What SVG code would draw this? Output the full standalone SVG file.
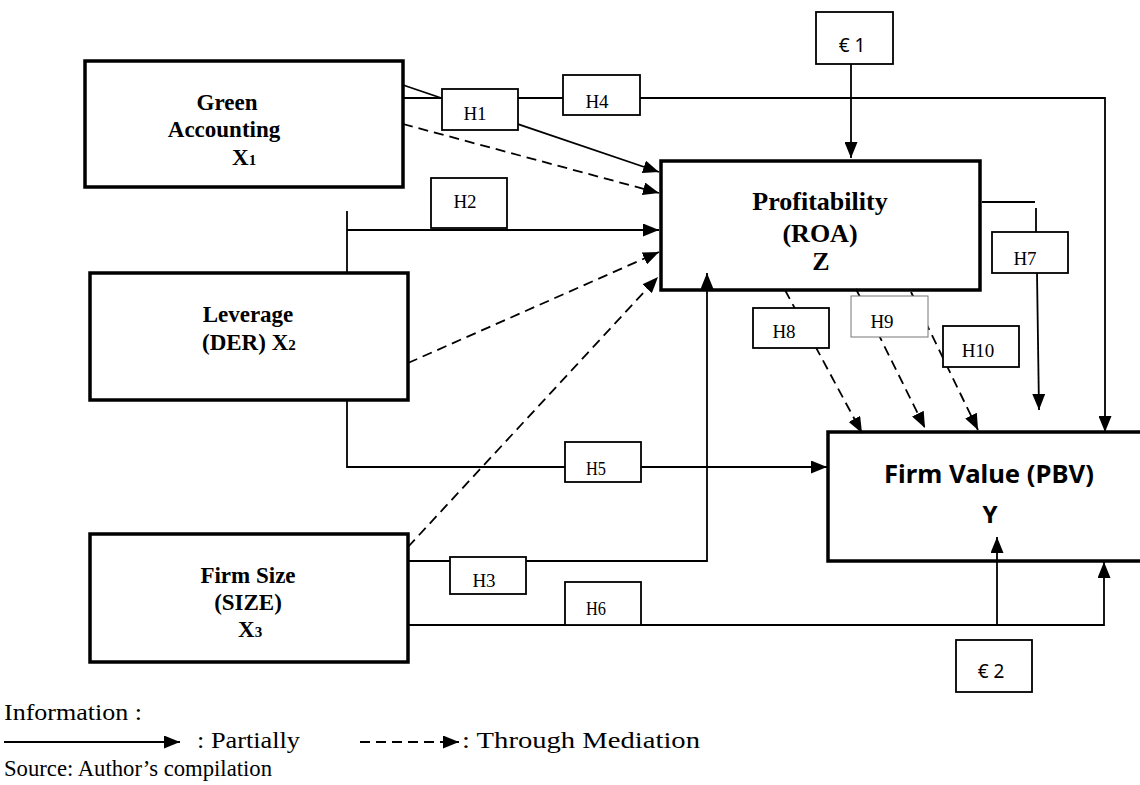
<svg xmlns="http://www.w3.org/2000/svg" width="1140" height="785" viewBox="0 0 1140 785">
<defs>
<marker id="ah" markerUnits="userSpaceOnUse" markerWidth="16" markerHeight="13" refX="16" refY="6.5" orient="auto">
<path d="M0,0 L16,6.5 L0,13 z" fill="#000"/>
</marker>
<style>
.main{fill:#fff;stroke:#000;stroke-width:3.5}
.hb{fill:#fff;stroke:#000;stroke-width:1.8}
.ln{fill:none;stroke:#000;stroke-width:1.8}
.ds{fill:none;stroke:#000;stroke-width:1.8;stroke-dasharray:10 6}
.bt{font-family:"Liberation Serif","Times New Roman",serif;font-weight:bold;font-size:23px;text-anchor:middle}
.ht{font-family:"Liberation Serif","Times New Roman",serif;font-size:19px;text-anchor:middle}
.et{font-family:"Noto Sans","Open Sans",sans-serif;font-size:19px;text-anchor:middle}
.lg{font-family:"Liberation Serif","Times New Roman",serif;font-size:23px}
</style>
</defs>
<rect width="1140" height="785" fill="#fff"/>

<g id="green-accounting">
<rect class="main" x="85" y="61" width="318" height="126"/>
<text class="bt" x="227" y="110">Green</text>
<text class="bt" x="224" y="137">Accounting</text>
<text class="bt" x="232" y="165" style="text-anchor:start">X<tspan font-size="15">1</tspan></text>
</g>

<g id="leverage">
<rect class="main" x="90" y="273" width="318" height="127"/>
<text class="bt" x="248" y="322">Leverage</text>
<text class="bt" x="202" y="350" style="text-anchor:start">(DER) X<tspan font-size="15">2</tspan></text>
</g>

<g id="firm-size">
<rect class="main" x="90" y="534" width="318" height="128"/>
<text class="bt" x="248" y="583">Firm Size</text>
<text class="bt" x="248" y="610">(SIZE)</text>
<text class="bt" x="238" y="637" style="text-anchor:start">X<tspan font-size="15">3</tspan></text>
</g>

<g id="profitability">
<rect class="main" x="661" y="161" width="319" height="129"/>
<text class="bt" x="820" y="210" style="font-size:26px">Profitability</text>
<text class="bt" x="820" y="242" style="font-size:26px">(ROA)</text>
<text class="bt" x="821" y="270" style="font-size:26px">Z</text>
</g>

<g id="firm-value">
<rect class="main" x="828" y="432" width="330" height="129"/>
<text x="989" y="483" font-family="'Noto Sans','Open Sans',sans-serif" font-weight="bold" font-size="25" text-anchor="middle" textLength="210" lengthAdjust="spacingAndGlyphs">Firm Value (PBV)</text>
<text x="990" y="523" font-family="'Noto Sans','Open Sans',sans-serif" font-weight="bold" font-size="24" text-anchor="middle">Y</text>
</g>

<g id="connectors">
<path class="ln" d="M403,85 L659,172" marker-end="url(#ah)"/>
<path class="ds" d="M403,124 L659,193" marker-end="url(#ah)"/>
<path class="ln" d="M403,98 L1105,98 L1105,432" marker-end="url(#ah)"/>
<path class="ln" d="M347,211 L347,273"/>
<path class="ln" d="M347,230 L659,230" marker-end="url(#ah)"/>
<path class="ds" d="M408,363 L659,252" marker-end="url(#ah)"/>
<path class="ln" d="M347,401 L347,467 L827,467" marker-end="url(#ah)"/>
<path class="ds" d="M408,547 L658,277" marker-end="url(#ah)"/>
<path class="ln" d="M408,561 L707,561 L707,273" marker-end="url(#ah)"/>
<path class="ln" d="M408,625 L1104,625 L1104,562" marker-end="url(#ah)"/>
<path class="ln" d="M997,625 L997,537" marker-end="url(#ah)"/>
<path class="ln" d="M851,64 L851,158" marker-end="url(#ah)"/>
<path class="ln" d="M982,202 L1035,202"/>
<path class="ln" d="M1036,208 L1036,232"/>
<path class="ln" d="M1037,273 L1039,410" marker-end="url(#ah)"/>
<path class="ds" d="M785,290 L862,433" marker-end="url(#ah)"/>
<path class="ds" d="M856,289 L925,428" marker-end="url(#ah)"/>
<path class="ds" d="M911,292 L978,430" marker-end="url(#ah)"/>
</g>

<g id="h1"><rect class="hb" x="442" y="89" width="76" height="41"/><text class="ht" x="475" y="120">H1</text></g>
<g id="h4"><rect class="hb" x="563" y="75" width="77" height="40"/><text class="ht" x="597" y="108">H4</text></g>
<g id="h2"><rect class="hb" x="431" y="178" width="76" height="50"/><text class="ht" x="465" y="208">H2</text></g>
<g id="h3"><rect class="hb" x="450" y="557" width="76" height="37"/><text class="ht" x="484" y="587">H3</text></g>
<g id="h5"><rect class="hb" x="565" y="442" width="76" height="40"/><text class="ht" x="596" y="475" textLength="20" lengthAdjust="spacingAndGlyphs" style="font-size:18px">H5</text></g>
<g id="h6"><rect class="hb" x="565" y="582" width="76" height="43"/><text class="ht" x="596" y="615" textLength="20" lengthAdjust="spacingAndGlyphs" style="font-size:18px">H6</text></g>
<g id="h7"><rect class="hb" x="992" y="232" width="76" height="41"/><text class="ht" x="1025" y="265">H7</text></g>
<g id="h8"><rect class="hb" x="753" y="308" width="76" height="40"/><text class="ht" x="784" y="338">H8</text></g>
<g id="h9"><rect x="851" y="296" width="77" height="41" fill="#fff" stroke="#777" stroke-width="1"/><text class="ht" x="882" y="328">H9</text></g>
<g id="h10"><rect class="hb" x="943" y="326" width="76" height="41"/><text class="ht" x="978" y="357">H10</text></g>
<g id="e1"><rect class="hb" x="816" y="12" width="77" height="52"/><text class="et" x="852" y="52">€ 1</text></g>
<g id="e2"><rect class="hb" x="956" y="640" width="76" height="52"/><text class="et" x="991" y="678">€ 2</text></g>

<g id="legend">
<text class="lg" x="4" y="720" textLength="138" lengthAdjust="spacingAndGlyphs">Information :</text>
<path class="ln" d="M4,742 L180,742" marker-end="url(#ah)"/>
<text class="lg" x="197" y="748" textLength="103" lengthAdjust="spacingAndGlyphs">: Partially</text>
<path class="ds" d="M360,742 L459,742" stroke-dasharray="6 4" marker-end="url(#ah)"/>
<text class="lg" x="462" y="748" textLength="238" lengthAdjust="spacingAndGlyphs">: Through Mediation</text>
<text class="lg" x="4" y="776" textLength="268" lengthAdjust="spacingAndGlyphs">Source: Author’s compilation</text>
</g>
</svg>
